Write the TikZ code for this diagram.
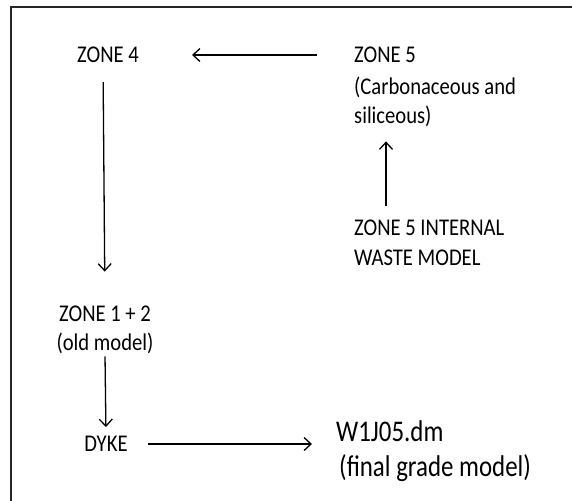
\documentclass[tikz,border=0pt]{standalone}
\usepackage{fontspec}
\setmainfont{Carlito}
\newfontfamily\narrowfont[FakeStretch=0.86]{Carlito}
\newfontfamily\widefont[FakeStretch=0.83]{Carlito}
\usepackage{tikz}
\usetikzlibrary{arrows.meta, positioning}

\begin{document}
\begin{tikzpicture}[x=1pt, y=-1pt,
                >={Straight Barb[length=7pt, width=13pt]},
                lbl/.style={inner sep=0pt, anchor=west, align=left, font=\narrowfont\fontsize{24}{29.5}\selectfont},
                big/.style={inner sep=0pt, anchor=west, font=\widefont\fontsize{30}{36}\selectfont},
                link/.style={->, line width=1.3pt}]
                \useasboundingbox (0,0) rectangle (572,500);
                \draw[line width=2pt, black!85] (11,510) |- (580,7);

                \node[lbl] (z4) at (77,55) {ZONE 4};
                \node[lbl] (z5) at (354,55) {ZONE 5};
                \node[lbl] (z5sub) at (354,102) {(Carbonaceous and\\siliceous)};
                \node[lbl] (z5int) at (354,243) {ZONE 5 INTERNAL\\WASTE MODEL};
                \node[lbl, anchor=center, align=center] (z12) at (105,330) {ZONE 1 + 2\\(old model)};
                \node[lbl, anchor=center] (dyke) at (106,444) {DYKE};
                \node[big] (wfile) at (336,431) {W1J05.dm};
                \node[big] (wsub) at (339,468) {(final grade model)};

                \draw[link, shorten <=37pt, shorten >=53pt] (z5.west) -- (z4.east);
                \draw[link, shorten <=14pt, shorten >=14pt] ([xshift=32pt]z5int.north west) -- ([xshift=32pt]z5sub.south west);
                \draw[link, shorten <=19pt, shorten >=34pt] ([xshift=-5pt]z4.south) -- (z12.north);
                \draw[link, shorten <=2pt, shorten >=9pt] (z12.south) -- (dyke.north);
                \draw[link, shorten <=20pt, shorten >=24pt] (dyke.east) -- (dyke.east -| wfile.west);
            \end{tikzpicture}
\end{document}
